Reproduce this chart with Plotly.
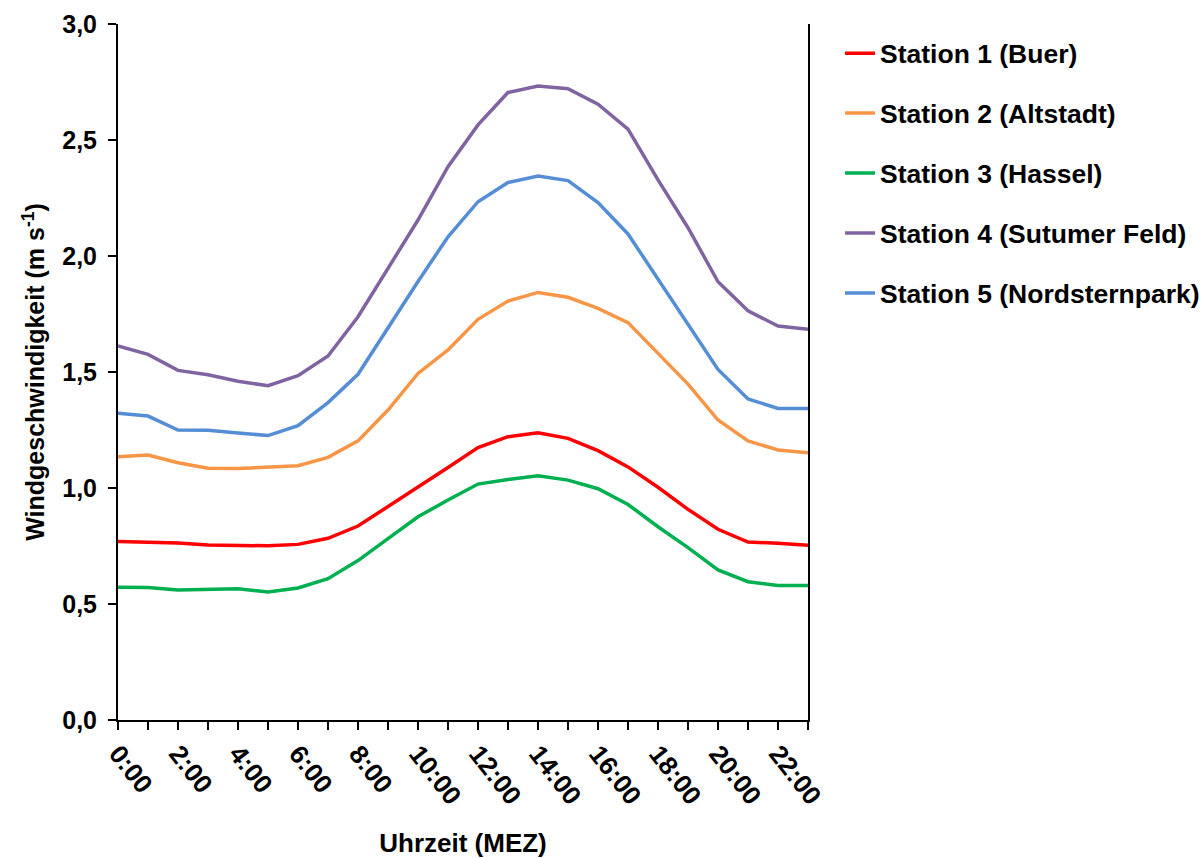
import plotly.graph_objects as go

# Hourly mean wind speed per station (m/s)
hours = list(range(24))
label_hours = hours[::2]
hour_labels = ["0:00", "2:00", "4:00", "6:00", "8:00", "10:00",
               "12:00", "14:00", "16:00", "18:00", "20:00", "22:00"]

station_1 = [0.769, 0.766, 0.763, 0.754, 0.753, 0.751, 0.757, 0.783, 0.836, 0.922, 1.004, 1.088,
             1.174, 1.221, 1.238, 1.214, 1.161, 1.091, 1.003, 0.908, 0.822, 0.767, 0.762, 0.753]
station_2 = [1.135, 1.142, 1.109, 1.085, 1.084, 1.089, 1.096, 1.132, 1.203, 1.336, 1.494, 1.595,
             1.727, 1.806, 1.843, 1.822, 1.774, 1.713, 1.580, 1.448, 1.293, 1.203, 1.164, 1.152]
station_3 = [0.572, 0.571, 0.560, 0.563, 0.566, 0.552, 0.569, 0.609, 0.687, 0.782, 0.876, 0.948,
             1.017, 1.037, 1.053, 1.034, 0.997, 0.929, 0.833, 0.743, 0.647, 0.596, 0.580, 0.580]
station_4 = [1.612, 1.576, 1.507, 1.488, 1.460, 1.441, 1.484, 1.569, 1.738, 1.947, 2.155, 2.385,
             2.565, 2.705, 2.733, 2.721, 2.654, 2.547, 2.328, 2.122, 1.889, 1.764, 1.698, 1.684]
station_5 = [1.322, 1.310, 1.250, 1.249, 1.237, 1.226, 1.269, 1.368, 1.490, 1.693, 1.890, 2.083,
             2.234, 2.317, 2.345, 2.325, 2.230, 2.095, 1.902, 1.704, 1.511, 1.384, 1.343, 1.343]

station_names = ["Station 1 (Buer)", "Station 2 (Altstadt)", "Station 3 (Hassel)",
                 "Station 4 (Sutumer Feld)", "Station 5 (Nordsternpark)"]
station_colors = ["#FF0000", "#F79646", "#00B050", "#8064A2", "#558ED5"]
series = [station_1, station_2, station_3, station_4, station_5]

FONT = "Liberation Sans, Arial, sans-serif"

fig = go.Figure()
for name, color, values in zip(station_names, station_colors, series):
    fig.add_trace(go.Scatter(
        x=hours, y=values, name=name, mode="lines",
        line=dict(color=color, width=3.5),
        legendgroup=name,
    ))

fig.update_layout(
    width=1203, height=858,
    margin=dict(l=118, r=395, t=24, b=138, autoexpand=False),
    paper_bgcolor="white", plot_bgcolor="white",
    separators=",.",
    font=dict(family=FONT, color="black", weight="bold"),
    showlegend=True,
    legend=dict(
        x=1.0464, xanchor="left", y=0.9922, yanchor="top",
        font=dict(size=26.5, family=FONT, color="black", weight="bold"),
        tracegroupgap=22.5, bgcolor="rgba(0,0,0,0)",
    ),
)

fig.update_xaxes(
    range=[0, 23], automargin=False,
    tickmode="array", tickvals=label_hours, ticktext=hour_labels,
    tickangle=52,
    ticks="outside", ticklen=8, tickwidth=2, tickcolor="black",
    minor=dict(ticks="outside", ticklen=8, tickwidth=2, tickcolor="black",
               tick0=0, dtick=1, showgrid=False),
    ticklabelstandoff=-2,
    showline=True, linecolor="black", linewidth=2,
    showgrid=False, zeroline=False,
    tickfont=dict(size=26, family=FONT, color="black", weight="bold"),
    title=dict(text="Uhrzeit (MEZ)", standoff=26,
               font=dict(size=26, family=FONT, color="black", weight="bold")),
)

fig.update_yaxes(
    range=[0, 3], dtick=0.5, tickformat=".1f", automargin=False,
    ticks="outside", ticklen=8, tickwidth=2, tickcolor="black",
    ticklabelstandoff=6,
    showline=True, linecolor="black", linewidth=2, mirror=True,
    showgrid=False, zeroline=False,
    tickfont=dict(size=25, family=FONT, color="black", weight="bold"),
    title=dict(text="Windgeschwindigkeit (m s<sup>-1</sup>)", standoff=10,
               font=dict(size=25, family=FONT, color="black", weight="bold")),
)

fig.write_html("out.html")
